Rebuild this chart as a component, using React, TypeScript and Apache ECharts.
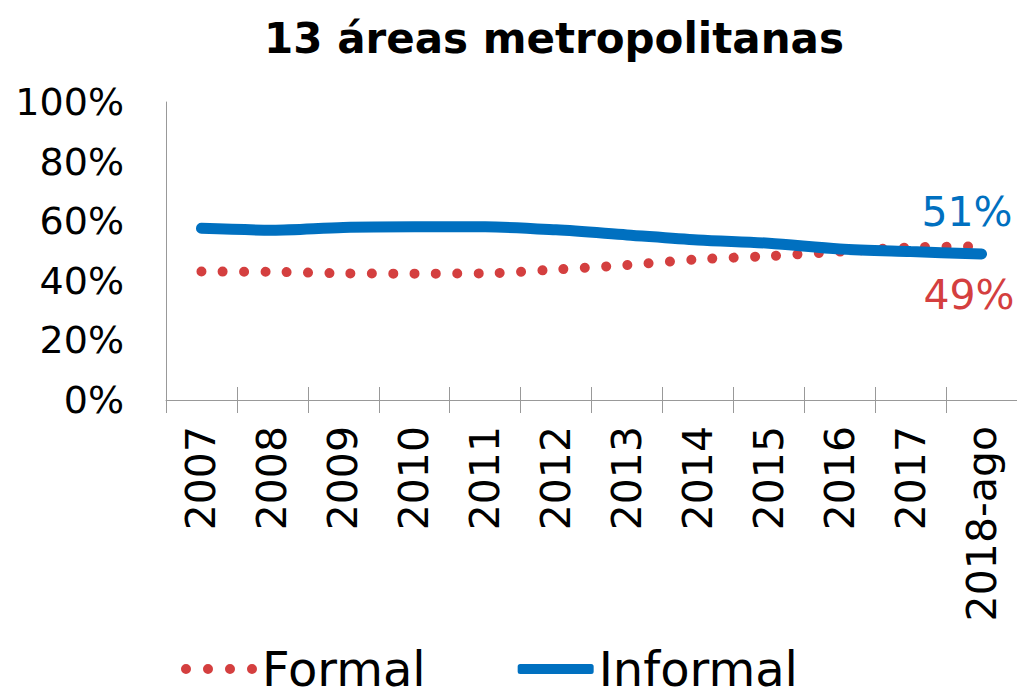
import React, { useEffect, useRef } from "react";
import * as echarts from "echarts";

const TITLE = "13 áreas metropolitanas";
const categories = ["2007", "2008", "2009", "2010", "2011", "2012", "2013", "2014", "2015", "2016", "2017", "2018-ago"];
const formal = [43.1, 43.0, 42.5, 42.4, 42.5, 43.8, 45.3, 47.2, 48.3, 49.8, 51.2, 51.5];
const informal = [57.6, 57.0, 57.9, 58.1, 58.1, 57.1, 55.4, 53.7, 52.6, 50.7, 49.8, 49.0];
const formalEndLabel = "49%";
const informalEndLabel = "51%";
const yTicks = [0, 20, 40, 60, 80, 100];

const FONT = "DejaVu Sans";
const BLUE = "#0070C0";
const RED = "#D43F3F";

const circle = (cx: number) => `M${cx - 5},5a5,5 0 1,0 10,0a5,5 0 1,0 -10,0Z`;
const DOTS_ICON = "path://" + [5, 27, 49, 71].map(circle).join("") + "M0,0L0,0M76,10L76,10";

export default function App() {
  const ref = useRef<HTMLDivElement>(null);
  useEffect(() => {
    const chart = echarts.init(ref.current!, null, { renderer: "svg" });
    chart.setOption({
      animation: false,
      backgroundColor: "#fff",
      title: {
        text: TITLE,
        top: 12,
        left: 549,
        textAlign: "center",
        textStyle: { fontFamily: FONT, fontWeight: "bold", fontSize: 42, color: "#000" },
      },
      legend: {
        bottom: 0,
        left: 176,
        itemWidth: 76,
        itemHeight: 10,
        itemGap: 92,
        textStyle: { fontFamily: FONT, fontSize: 48, color: "#000", padding: [0, 0, 0, 0] },
        data: [
          { name: "Formal", icon: DOTS_ICON, itemStyle: { color: RED } },
          { name: "Informal", icon: "roundRect", itemStyle: { color: BLUE } },
        ],
      },
      grid: { left: 166, top: 102, right: -4, bottom: 298 },
      xAxis: [
        {
          type: "category",
          data: categories,
          boundaryGap: true,
          axisLine: { lineStyle: { color: "#999", width: 1 } },
          axisTick: { show: true, length: 13, lineStyle: { color: "#999" } },
          axisLabel: { rotate: 90, margin: 26, fontFamily: FONT, fontSize: 41, color: "#000" },
        },
        {
          type: "category",
          data: categories,
          position: "bottom",
          boundaryGap: true,
          axisLine: { show: false },
          axisTick: { show: true, inside: true, length: 13, lineStyle: { color: "#999" } },
          axisLabel: { show: false },
        },
      ],
      yAxis: {
        type: "value",
        min: yTicks[0],
        max: yTicks[yTicks.length - 1],
        interval: 20,
        axisLine: { show: true, lineStyle: { color: "#999", width: 1 } },
        axisTick: { show: false },
        splitLine: { show: false },
        axisLabel: { formatter: "{value}%", margin: 42, fontFamily: FONT, fontSize: 38, color: "#000" },
      },
      series: [
        {
          name: "Formal",
          type: "line",
          data: formal,
          smooth: 0.3,
          symbol: "none",
          color: RED,
          lineStyle: { color: RED, width: 10, type: [0.01, 21.3], cap: "round" },
          endLabel: {
            show: true,
            formatter: formalEndLabel,
            color: RED,
            fontFamily: FONT,
            fontSize: 41,
            align: "right",
            offset: [25, 48],
          },
        },
        {
          name: "Informal",
          type: "line",
          data: informal,
          smooth: 0.3,
          symbol: "none",
          color: BLUE,
          lineStyle: { color: BLUE, width: 11, cap: "round" },
          endLabel: {
            show: true,
            formatter: informalEndLabel,
            color: BLUE,
            fontFamily: FONT,
            fontSize: 41,
            align: "right",
            offset: [23, -42],
          },
        },
      ],
    });
    return () => chart.dispose();
  }, []);
  return <div ref={ref} style={{ width: 1017, height: 698, position: "absolute", left: 0, top: 0 }} />;
}
